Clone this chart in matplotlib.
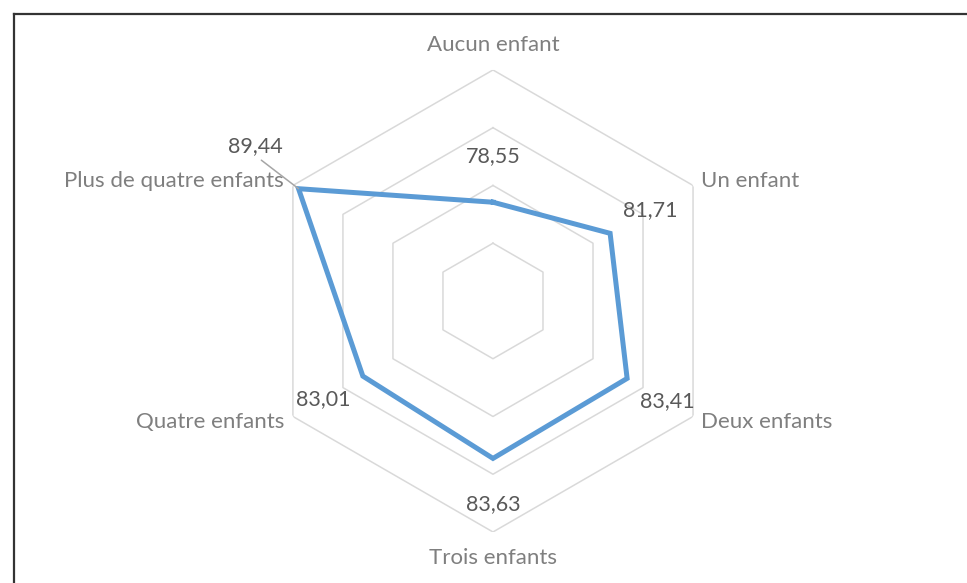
import numpy as np
import matplotlib
matplotlib.use("Agg")
import matplotlib.pyplot as plt
from matplotlib.lines import Line2D

plt.rcParams['font.family'] = ['Lato', 'DejaVu Sans']

# data
categories = ["Aucun enfant", "Un enfant", "Deux enfants",
              "Trois enfants", "Quatre enfants", "Plus de quatre enfants"]
values = [78.55, 81.71, 83.41, 83.63, 83.01, 89.44]
value_labels = ["78,55", "81,71", "83,41", "83,63", "83,01", "89,44"]
ring_levels = [75, 80, 85, 90]
r_min, r_max = 70, 90

n = len(categories)
angles = np.arange(n) * 2 * np.pi / n

fig = plt.figure(figsize=(9.67, 5.83), dpi=100)
ax = fig.add_axes([0.2709, 0.0875, 0.4778, 0.7925], projection='polar')
ax.set_theta_offset(np.pi / 2)
ax.set_theta_direction(-1)
ax.set_ylim(r_min, r_max)
ax.grid(False)
ax.spines['polar'].set_visible(False)
ax.set_xticks([])
ax.set_yticks([])
ax.patch.set_alpha(0)

# hexagonal grid rings
closed = np.append(angles, angles[0])
for lvl in ring_levels:
    ax.plot(closed, [lvl] * (n + 1), color='#D9D9D9', lw=1.1, zorder=1)

# data series
ax.plot(closed, values + [values[0]], color='#5B9BD5', lw=3.6,
        solid_joinstyle='miter', zorder=3, clip_on=False)

# category labels
for ang, cat in zip(angles, categories):
    dx, dy = np.sin(ang), np.cos(ang)
    if abs(dx) < 0.01:
        ha = 'center'
        va = 'bottom' if dy > 0 else 'top'
        off = (0, 15 if dy > 0 else -16)
    else:
        ha = 'left' if dx > 0 else 'right'
        va = 'center'
        off = (8 if dx > 0 else -9, 4 if dy > 0 else -6)
    ax.annotate(cat, xy=(ang, r_max), xytext=off, textcoords='offset pixels',
                ha=ha, va=va, fontsize=16, color='#7F7F7F',
                annotation_clip=False)

# value labels
for i, (ang, v, lab) in enumerate(zip(angles, values, value_labels)):
    dx, dy = np.sin(ang), np.cos(ang)
    if i == n - 1:
        ax.annotate(lab, xy=(ang, v), xytext=(-43, 43), textcoords='offset pixels',
                    ha='center', va='center', fontsize=15.5, color='#595959',
                    annotation_clip=False,
                    arrowprops=dict(arrowstyle='-', color='#A6A6A6', lw=1.1,
                                    shrinkA=2, shrinkB=0,
                                    relpos=(0.5, 0.0)))
    else:
        ax.annotate(lab, xy=(ang, v), xytext=(46 * dx, 46 * dy),
                    textcoords='offset pixels', ha='center', va='center',
                    fontsize=15.5, color='#595959', annotation_clip=False)

# chart border (left and top edges visible)
fig.add_artist(Line2D([14 / 967, 14 / 967], [0, 1 - 14 / 583],
                      transform=fig.transFigure, color='#333333', lw=1.6))
fig.add_artist(Line2D([14 / 967, 1], [1 - 14 / 583, 1 - 14 / 583],
                      transform=fig.transFigure, color='#333333', lw=1.6))

fig.savefig("out.png", dpi=100)
